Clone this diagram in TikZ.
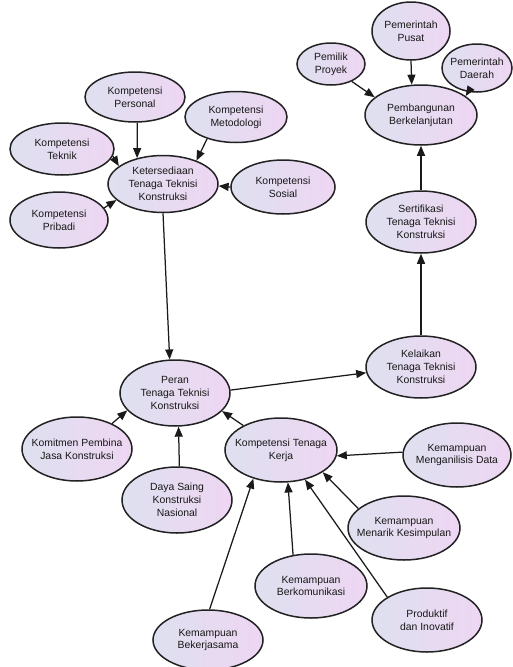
\documentclass[tikz,border=0pt]{standalone}
\usepackage{fontspec}
\setmainfont{Liberation Sans}
\usetikzlibrary{shapes.geometric,arrows.meta}

\definecolor{ellL}{RGB}{222,224,240}
\definecolor{ellR}{RGB}{238,214,242}
\definecolor{rimc}{RGB}{34,34,34}
\definecolor{linec}{RGB}{26,26,26}
\definecolor{txtc}{RGB}{24,24,24}

\tikzset{
  ell/.style={ellipse, draw=rimc, line width=1.5pt, left color=ellL, right color=ellR, inner sep=0pt},
  lbl/.style={align=center, font=\fontsize{10.4}{12.8}\selectfont, text=txtc, inner sep=0pt},
  arr/.style={draw=linec, line width=1.25pt, -{Triangle[length=10pt,width=8pt]}},
}

% name, x, y, full width, full height, text
\newcommand{\bubble}[6]{%
  \node[ell, minimum width=#4pt, minimum height=#5pt] (#1) at (#2,#3) {};
  \node[lbl] (#1-t) at (#1) {#6};
}

\begin{document}
\begin{tikzpicture}[x=1pt,y=-1pt]
\useasboundingbox (0,0) rectangle (512,667);

% competence cluster
\bubble{pers}{135}{97}{100}{50}{Kompetensi\\Personal}
\bubble{meto}{236}{117}{102}{51}{Kompetensi\\Metodologi}
\bubble{tek}{62}{149}{104}{52}{Kompetensi\\Teknik}
\bubble{ket}{163}{184}{110}{57}{Ketersediaan\\Tenaga Teknisi\\Konstruksi}
\bubble{sos}{283}{187}{104}{54}{Kompetensi\\Sosial}
\bubble{prib}{59}{220}{98}{56}{Kompetensi\\Pribadi}

% sustainability cluster
\bubble{pemilik}{331}{64}{68}{42}{Pemilik\\Proyek}
\bubble{pusat}{411}{31}{78}{58}{Pemerintah\\Pusat}
\bubble{daerah}{477}{68}{70}{48}{Pemerintah\\Daerah}
\bubble{pb}{421}{115}{112}{60}{Pembangunan\\Berkelanjutan}
\bubble{ser}{421}{222}{110}{62}{Sertifikasi\\Tenaga Teknisi\\Konstruksi}
\bubble{kel}{421}{367}{110}{62}{Kelaikan\\Tenaga Teknisi\\Konstruksi}

% role cluster
\bubble{peran}{175}{393}{110}{66}{Peran\\Tenaga Teknisi\\Konstruksi}
\bubble{kom}{77}{449}{110}{64}{Komitmen Pembina\\Jasa Konstruksi}
\bubble{ktk}{281}{450}{112}{64}{Kompetensi Tenaga\\Kerja}
\bubble{daya}{177}{500}{110}{66}{Daya Saing\\Konstruksi\\Nasional}

% workforce skills
\bubble{anal}{457}{455}{108}{64}{Kemampuan\\Menganilisis Data}
\bubble{menarik}{404}{528}{112}{64}{Kemampuan\\Menarik Kesimpulan}
\bubble{berk}{311}{586}{112}{64}{Kemampuan\\Berkomunikasi}
\bubble{prod}{427}{620}{110}{64}{Produktif\\dan Inovatif}
\bubble{bek}{208}{640}{110}{60}{Kemampuan\\Bekerjasama}

% connectors
\draw[arr] (pers.-85) -- (ket.135);
\draw[arr] (meto.-143) -- (ket.35);
\draw[arr] (tek.-8) -- (ket.158);
\draw[arr] (prib.15) -- (ket.-161);
\draw[arr] (sos.180) -- (ket.-2);
\draw[arr] (ket.-90) -- (peran.99);
\draw[arr] (peran.3) -- (kel.-174);
\draw[arr] (kel.90) -- (ser.-90);
\draw[arr] (ser.90) -- (pb.-90);
\draw[arr] (pemilik.-40) -- (pb.159);
\draw[arr] (pusat.-90) -- (pb.107);
\draw[arr] (daerah.-110) -- (pb.23);
\draw[arr] (kom.36) -- (peran.-160);
\draw[arr] (daya.86) -- (peran.-84);
\draw[arr] (ktk.147) -- (peran.-21);
\draw[arr] (anal.177) -- (ktk.-6);
\draw[arr] (menarik.157) -- (ktk.-28);
\draw[arr] (berk.120) -- (ktk.-78);
\draw[arr] (prod.150) -- (ktk.-51);
\draw[arr] (bek.87) -- (ktk.-134);
\end{tikzpicture}
\end{document}
